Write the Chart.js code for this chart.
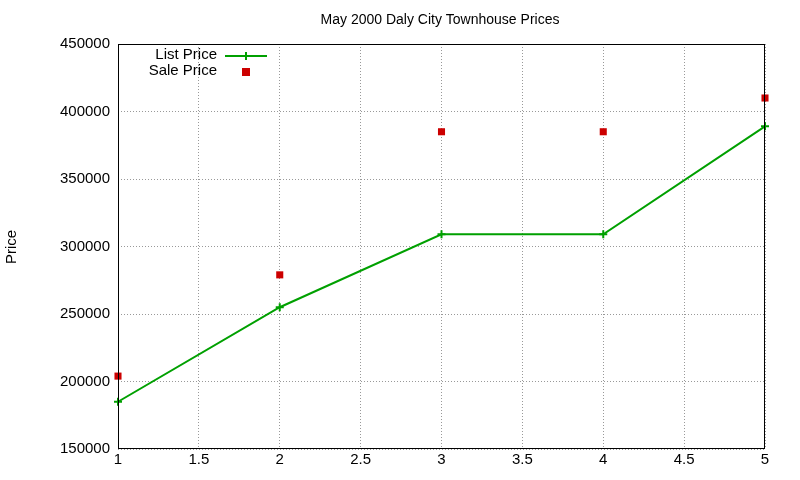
<!DOCTYPE html>
<html>
<head>
<meta charset="utf-8">
<script src="https://cdn.jsdelivr.net/npm/chart.js@4"></script>
<style>
  body { margin: 0; background: #fff; }
  #wrap { width: 800px; height: 480px; }
</style>
</head>
<body>
<div id="wrap"><canvas id="chart" width="800" height="480"></canvas></div>
<script>
const X_VALUES = [1, 2, 3, 4, 5];
const LIST_PRICE = [185000, 255000, 309000, 309000, 389000];
const SALE_PRICE = [204000, 279000, 385000, 385000, 410000];
const TITLE = "May 2000 Daly City Townhouse Prices";

const FONT = "'Liberation Sans', Arial, sans-serif";

// title, y label and legend drawn gnuplot-style
const decor = {
  id: "decor",
  afterDraw(chart) {
    const { ctx, chartArea: a } = chart;
    ctx.save();
    ctx.fillStyle = "#000";
    ctx.font = `14px ${FONT}`;
    ctx.textAlign = "center";
    ctx.textBaseline = "middle";
    ctx.fillText(TITLE, 440, 20);

    ctx.font = `15px ${FONT}`;
    ctx.translate(12, 247);
    ctx.rotate(-Math.PI / 2);
    ctx.fillText("Price", 0, 0);
    ctx.setTransform(1, 0, 0, 1, 0, 0);

    // plot border
    ctx.strokeStyle = "#000";
    ctx.lineWidth = 1;
    ctx.strokeRect(a.left + 0.5, a.top + 0.5, a.right - a.left - 1, a.bottom - a.top - 1);

    // legend
    ctx.font = `15px ${FONT}`;
    ctx.textAlign = "right";
    ctx.fillText("List Price", 217, 55);
    ctx.fillText("Sale Price", 217, 71);
    ctx.strokeStyle = "#00a000";
    ctx.lineWidth = 2;
    ctx.beginPath();
    ctx.moveTo(225, 56); ctx.lineTo(267, 56);
    ctx.moveTo(246, 52); ctx.lineTo(246, 60);
    ctx.stroke();
    ctx.fillStyle = "#cc0000";
    ctx.fillRect(242, 68, 8, 8);
    ctx.restore();
  },
};

new Chart(document.getElementById("chart"), {
  type: "scatter",
  data: {
    datasets: [
      {
        label: "List Price",
        data: X_VALUES.map((x, i) => ({ x, y: LIST_PRICE[i] })),
        showLine: true,
        clip: false,
        borderColor: "#00a000",
        borderWidth: 2,
        pointStyle: "cross",
        pointRadius: 4,
        pointBorderColor: "#00a000",
        pointBorderWidth: 2,
      },
      {
        label: "Sale Price",
        data: X_VALUES.map((x, i) => ({ x, y: SALE_PRICE[i] })),
        clip: false,
        pointStyle: "rect",
        pointRadius: 5,
        backgroundColor: "#cc0000",
        borderColor: "#cc0000",
        borderWidth: 0,
      },
    ],
  },
  options: {
    responsive: false,
    animation: false,
    layout: { padding: { top: 44, right: 35 } },
    plugins: { legend: { display: false }, tooltip: { enabled: false } },
    scales: {
      x: {
        type: "linear",
        min: 1,
        max: 5,
        afterFit: (s) => { s.height = 31; },
        ticks: { stepSize: 0.5, color: "#000", font: { family: FONT, size: 15 }, padding: 2,
                 callback: (v) => String(v) },
        grid: { color: "#999", tickLength: 0, drawTicks: false },
        border: { display: false, dash: [1, 2] },
      },
      y: {
        min: 150000,
        max: 450000,
        afterFit: (s) => { s.width = 118; },
        ticks: { stepSize: 50000, color: "#000", font: { family: FONT, size: 15 }, padding: 8,
                 callback: (v) => String(v) },
        grid: { color: "#999", drawTicks: false },
        border: { display: false, dash: [1, 2] },
      },
    },
  },
  plugins: [decor],
});
</script>
</body>
</html>
